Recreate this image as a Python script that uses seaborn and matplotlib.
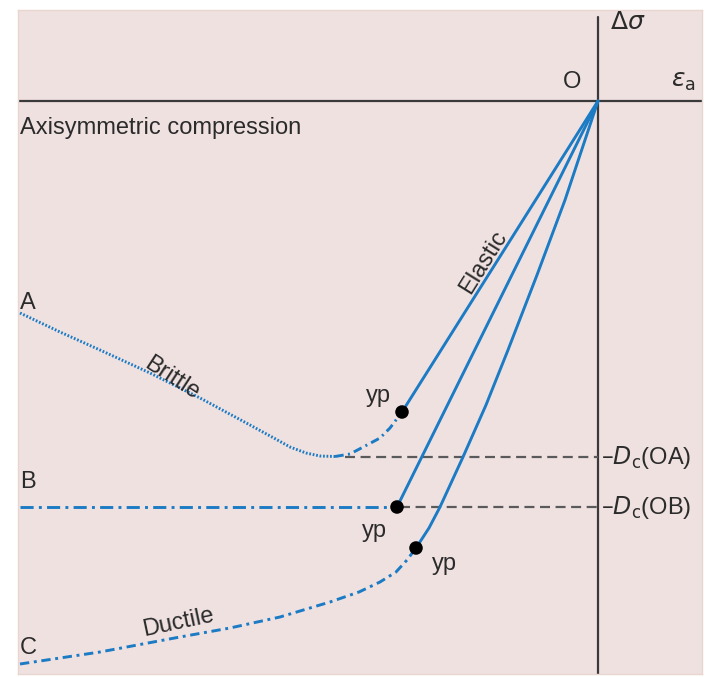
import numpy as np
import pandas as pd
import matplotlib
matplotlib.use("Agg")
import matplotlib.pyplot as plt
import seaborn as sns

# ---- data (strain eps_a, stress change dsigma; origin O at (0,0), compression negative) ----
elastic_a_x = [0.0, -19.6]
elastic_a_y = [0.0, -31.1]
elastic_b_x = [0.0, -20.1]
elastic_b_y = [0.0, -40.6]
elastic_c_x = [0.0, -3.3, -6.1, -9.0, -11.2, -13.5, -15.8, -16.9, -18.2]
elastic_c_y = [0.0, -9.9, -17.4, -24.9, -30.4, -35.6, -40.6, -42.7, -44.7]

brittle_x = [-57.8, -53.8, -49.8, -44.8, -39.8, -34.8, -32.6, -30.8, -29.2, -27.8, -26.3]
brittle_y = [-21.2, -23.1, -24.9, -27.2, -29.7, -32.4, -33.6, -34.6, -35.2, -35.5, -35.55]
brittle_tail_x = [-26.3, -24.8, -23.1, -21.8, -20.8, -19.6]
brittle_tail_y = [-35.55, -35.3, -34.4, -33.7, -32.7, -31.1]

plateau_b_x = [-57.8, -20.1]
plateau_b_y = [-40.6, -40.6]

ductile_x = [-57.8, -49.8, -41.8, -36.8, -31.8, -26.8, -23.9, -21.8, -20.2, -19.1, -18.2]
ductile_y = [-56.3, -55.1, -53.6, -52.7, -51.6, -50.1, -49.1, -48.1, -47.1, -45.9, -44.7]

yield_x = [-19.6, -20.1, -18.2]
yield_y = [-31.1, -40.6, -44.7]

dc_levels = [-35.6, -40.6]
dc_starts = [-25.3, -19.8]

blue = "#1b7bc4"
gray = "#5a5a5a"
axis_col = "#3a3a3a"
bg = "#f0e1e1"

sns.set_theme(style="white")
plt.rcParams['font.family'] = ['Liberation Sans', 'DejaVu Sans']

fig = plt.figure(figsize=(7.06, 6.77), dpi=100)
ax = fig.add_axes([18/706, 3/677, 684/706, 664/677])
ax.set_facecolor(bg)
ax.set_xlim(-58.0, 10.4)
ax.set_ylim(-57.3, 9.1)
for s in ax.spines.values():
    s.set_visible(True)
    s.set_color("#e8d6cf")
    s.set_linewidth(1.0)
ax.set_xticks([])
ax.set_yticks([])

# axes through O
ax.axhline(0, color=axis_col, lw=1.6, zorder=2)
ax.axvline(0, ymin=0.0, ymax=0.99, color=axis_col, lw=1.6, zorder=2)

lw = 2.1
def line(x, y, **kw):
    sns.lineplot(x=x, y=y, sort=False, estimator=None, ax=ax, color=blue,
                 lw=lw, legend=False, zorder=3, **kw)

line(elastic_a_x, elastic_a_y)
line(elastic_b_x, elastic_b_y)
line(elastic_c_x, elastic_c_y)
line(brittle_x, brittle_y, dashes=(0.6, 0.6))
line(brittle_tail_x, brittle_tail_y, dashes=(3, 1.5, 0.7, 1.5))
line(plateau_b_x, plateau_b_y, dashes=(4.5, 1.8, 1, 1.8))
line(ductile_x, ductile_y, dashes=(3.2, 1.6, 1, 1.6))

for lvl, st in zip(dc_levels, dc_starts):
    ax.plot([st, 0], [lvl, lvl], color=gray, lw=1.6, dashes=(4.5, 2.5), zorder=2)

sns.scatterplot(x=yield_x, y=yield_y, ax=ax, color="black", s=95, zorder=5,
                edgecolor="none", legend=False)

tc = "#2b2b2b"
fs = 17
ax.text(0.3, -35.6, r"–$D_{\rm c}$(OA)", fontsize=fs, va="center", ha="left", color=tc)
ax.text(0.3, -40.6, r"–$D_{\rm c}$(OB)", fontsize=fs, va="center", ha="left", color=tc)
ax.text(-57.8, -2.7, "Axisymmetric compression", fontsize=fs, ha="left", va="center", color=tc)
ax.text(-57.8, -20.2, "A", fontsize=fs, ha="left", va="center", color=tc)
ax.text(-57.8, -38.1, "B", fontsize=fs, ha="left", va="center", color=tc)
ax.text(-57.8, -54.7, "C", fontsize=fs, ha="left", va="center", color=tc)
ax.text(-2.6, 1.9, "O", fontsize=fs, ha="center", va="center", color=tc)
ax.text(1.2, 7.9, r"$\Delta\sigma$", fontsize=fs + 1, ha="left", va="center", color=tc)
ax.text(9.8, 2.0, r"$\varepsilon_{\rm a}$", fontsize=fs + 1, ha="right", va="center", color=tc)
ax.text(-22.0, -29.5, "yp", fontsize=fs, ha="center", va="center", color=tc)
ax.text(-22.4, -43.0, "yp", fontsize=fs, ha="center", va="center", color=tc)
ax.text(-15.4, -46.3, "yp", fontsize=fs, ha="center", va="center", color=tc)
ax.text(-42.6, -27.7, "Brittle", fontsize=fs, ha="center", va="center", rotation=-33, color=tc)
ax.text(-11.4, -16.1, "Elastic", fontsize=fs, ha="center", va="center", rotation=58, color=tc)
ax.text(-42.0, -52.2, "Ductile", fontsize=fs, ha="center", va="center", rotation=12, color=tc)

fig.savefig("out.png", dpi=100, facecolor="white")
